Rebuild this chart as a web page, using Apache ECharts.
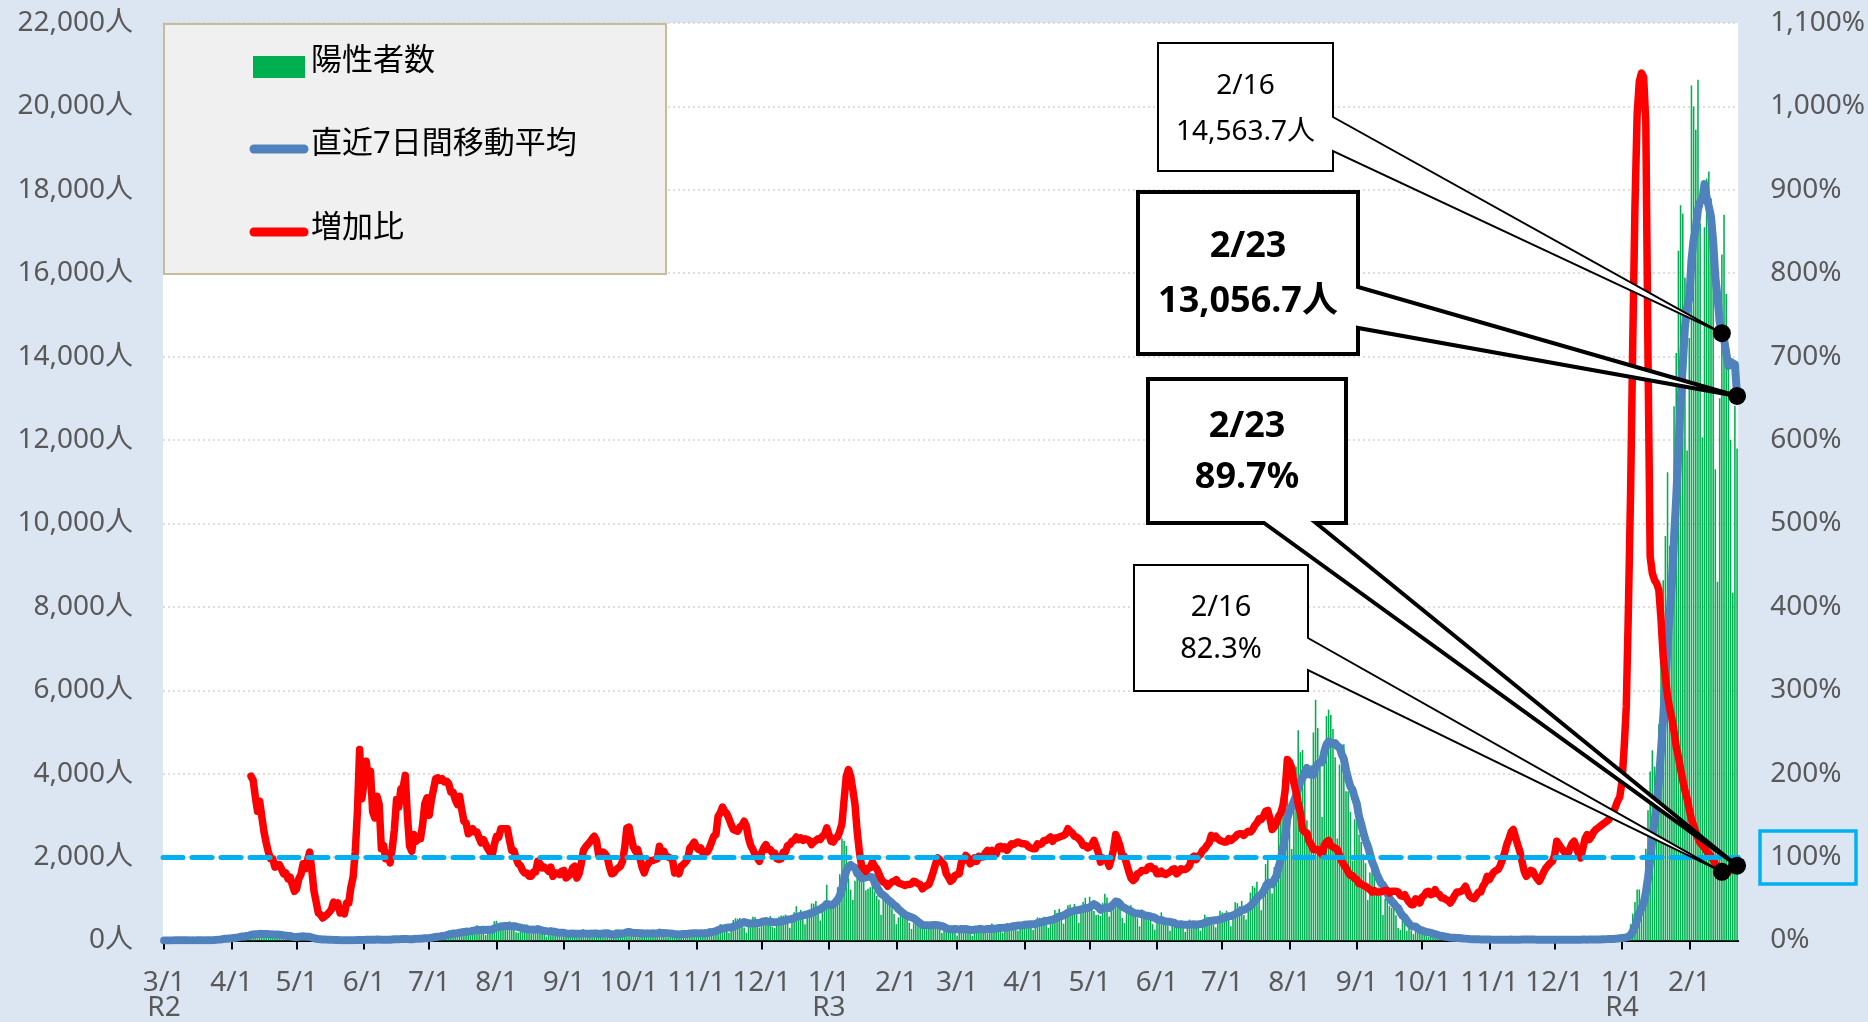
<!DOCTYPE html>
<html><head><meta charset="utf-8">
<script src="https://cdn.jsdelivr.net/npm/echarts@6/dist/echarts.min.js"></script>
<style>html,body{margin:0;padding:0;background:#dce6f2;}#c{width:1868px;height:1022px;}</style>
</head><body><div id="c"></div>
<script>
// ---------- DATA (daily, from 2020-03-01) ----------
const firstDay = [2020, 3, 1];
const cases2020 = [0,1,2,2,8,6,3,4,3,0,7,2,1,8,1,0,1,5,6,11,7,10,16,17,41,47,40,63,68,13,78,
66,97,89,116,143,83,79,144,178,189,197,166,91,161,127,149,201,181,107,102,123,132,134,161,103,72,39,112,47,46,
165,154,91,87,58,38,23,39,36,22,15,28,10,30,9,14,5,10,5,5,11,3,2,14,8,10,11,15,22,14,5,
13,34,12,28,20,26,14,13,12,18,22,25,24,47,48,27,16,41,35,39,35,29,31,55,48,54,57,60,58,54,
67,107,124,131,111,102,106,75,224,243,206,206,119,143,165,286,293,290,188,168,237,238,366,260,295,239,131,266,250,367,463,
472,292,258,309,263,360,462,429,331,197,188,222,206,389,385,260,161,207,186,339,258,256,212,95,182,236,250,226,148,148,100,
170,141,211,229,181,116,77,170,149,276,187,146,146,80,191,163,172,220,218,164,98,88,59,195,270,270,181,78,191,194,
235,196,207,143,78,173,177,172,249,197,146,81,166,176,284,185,234,77,78,139,150,185,186,203,124,102,158,171,221,215,215,
116,87,209,122,269,242,294,189,157,293,317,393,374,352,255,180,298,493,534,522,539,391,314,186,401,481,570,561,418,311,
372,500,533,449,584,327,299,352,572,602,595,621,480,305,460,678,822,664,736,556,392,563,748,888,884,949,708,481,856,944,1337];
const cases2021 = [783,814,816,884,1278,1591,2447,2392,2268,1494,1219,970,1433,1502,2044,1809,1592,1204,1240,1274,1471,1175,1070,986,618,1026,973,1064,868,769,633,
393,556,676,734,577,639,429,276,412,390,434,307,369,371,266,378,445,445,353,327,272,178,275,213,340,270,337,329,
121,232,316,279,301,293,237,116,290,340,335,304,241,239,175,300,409,323,303,342,256,187,337,420,394,376,430,313,234,364,414,
475,440,446,355,249,399,555,545,537,570,421,306,510,591,729,667,759,543,405,711,843,861,759,876,635,425,828,925,1027,698,
1050,879,708,609,621,591,907,1121,1032,573,925,969,1010,854,772,542,419,732,766,843,614,629,535,340,743,597,684,614,539,392,260,
471,487,676,472,436,351,235,369,440,439,435,467,304,209,337,501,452,453,388,376,236,435,619,570,562,534,386,317,476,714,
673,660,716,518,342,593,920,896,822,950,614,502,830,1149,1308,1271,1410,1008,727,1387,1832,1979,1359,1128,1763,1429,2848,3177,3865,3300,4058,
3058,2195,3709,4166,5042,4515,4566,4066,2884,2612,4200,4989,5773,5094,4295,2962,4377,5386,5534,5405,5074,4392,2447,4220,4228,4704,3581,3581,3081,1915,2909,
3168,2539,2362,2070,1853,968,1629,1834,1675,1242,1273,1067,611,1004,1052,831,782,862,606,302,253,537,531,235,382,248,154,248,267,218,
200,198,161,87,149,144,138,82,81,60,49,77,72,62,66,65,40,29,36,41,36,26,32,19,17,29,36,21,23,20,22,
9,18,21,21,24,22,18,10,18,27,25,21,20,20,7,31,21,24,22,20,19,9,6,11,29,24,12,24,25,15,
13,23,19,21,22,16,19,23,21,21,16,22,20,22,22,16,31,23,16,37,26,36,37,39,39,31,46,34,76,64,78];
const cases2022 = [79,84,103,151,390,641,922,1224,1223,871,962,2198,3124,4051,4561,4172,3511,5185,7377,8638,9699,11227,9468,8503,12813,14086,16538,17631,17433,15895,11751,
14445,20500,20000,19440,20640,17200,12070,17100,18270,18440,17800,16400,11300,8600,13000,16450,17400,15500,14200,12000,8340,12820,11800];

const avg2020 = [1,1,2,2,3,3,3,4,4,4,4,4,3,4,3,3,3,3,3,5,4,6,8,10,15,21,25,33,42,41,50,
54,61,68,75,86,96,96,107,119,133,145,148,149,161,158,154,156,154,145,147,141,142,140,134,123,118,109,108,95,83,
83,91,93,100,93,91,88,70,53,43,33,29,25,26,21,18,16,15,12,11,8,8,6,7,7,8,8,9,12,13,12,
13,16,16,18,18,20,21,21,18,19,18,19,18,23,28,30,30,33,34,36,34,32,32,38,39,42,44,48,52,55,
57,65,75,86,93,99,107,108,125,142,152,166,168,174,187,195,203,215,212,219,232,243,254,250,250,258,252,256,258,258,287,
313,320,338,344,346,345,345,339,345,336,319,313,291,280,274,264,259,261,256,275,257,238,231,222,218,225,213,208,193,184,184,
183,169,163,164,169,164,161,161,162,171,165,160,164,165,168,170,155,160,170,173,175,160,146,149,156,163,166,163,178,197,
203,192,183,178,178,175,173,164,171,170,170,171,170,170,186,176,182,172,171,168,164,150,150,145,152,156,158,161,166,171,172,
171,169,176,169,176,180,191,202,212,224,252,269,288,296,306,309,310,335,355,376,403,422,442,426,412,405,412,415,419,418,
445,459,466,449,452,439,438,435,445,455,476,481,503,504,519,534,566,576,592,603,615,630,640,650,681,711,733,746,788,816,880];
const avg2021 = [865,846,862,919,979,1072,1230,1460,1668,1765,1813,1769,1746,1611,1561,1496,1510,1508,1546,1524,1519,1395,1289,1203,1119,1089,1046,987,944,901,850,
818,751,708,661,620,601,572,555,535,494,451,412,374,366,364,359,367,369,375,369,355,343,328,295,280,268,269,277,
269,263,278,269,274,267,254,253,262,265,273,274,266,266,275,276,286,284,284,299,301,303,308,310,320,330,343,351,358,362,361,
372,381,384,390,392,397,417,427,441,459,468,476,492,497,523,542,569,586,601,629,665,684,697,714,727,730,747,758,782,773,
798,833,874,842,799,737,766,777,798,779,824,874,934,926,876,806,784,757,728,704,670,649,648,637,639,614,592,592,579,558,547,
508,492,491,471,456,450,447,432,426,392,386,391,384,380,376,385,386,389,378,388,392,406,423,440,455,476,477,489,495,508,
523,537,563,582,586,602,632,664,687,720,734,757,791,823,882,946,1012,1068,1100,1180,1278,1373,1386,1346,1454,1554,1763,1955,2224,2501,2920,
3105,3214,3337,3479,3647,3820,3893,4037,4135,3979,3984,3976,4156,4231,4264,4275,4527,4697,4774,4722,4719,4733,4659,4637,4471,4353,4092,3879,3692,3616,3428,
3277,2968,2794,2578,2402,2267,2084,1894,1770,1610,1496,1384,1333,1244,1132,1011,946,887,821,777,670,596,553,475,407,355,334,334,295,250,
245,219,207,197,183,165,154,137,120,106,100,90,80,69,67,64,62,59,53,48,45,39,34,31,30,29,28,26,25,24,24,
23,21,19,19,19,20,19,19,19,20,21,20,20,20,20,22,21,21,21,21,21,21,17,16,17,17,16,16,19,20,
20,19,19,20,20,18,19,20,20,20,20,20,20,21,21,20,21,22,21,24,24,26,29,31,33,35,36,37,43,47,53];
const avg2022 = [58,66,74,91,136,218,339,502,665,775,890,1149,1503,1950,2427,2848,3226,3829,4569,5356,6163,7116,7872,8585,9675,10633,11762,12895,13782,14700,15164,
15397,16313,16808,17066,17524,17711,17756,18136,17817,17594,17360,16754,15911,15416,14830,14563.7,14421,14093,13779,13879,13841,13816,13056.7];

// 増加比 starts on 2020-04-10
const ratioFirstDay = [2020, 4, 10];
const ratio2020 = [197,192,172,155,167,148,130,117,106,98,98,88,90,91,86,80,81,74,76,67,59,
62,74,79,92,86,96,106,84,59,46,33,31,27,29,31,34,37,46,41,45,33,35,32,45,45,64,76,107,155,229,170,
188,215,195,203,154,147,173,163,110,114,98,103,93,110,133,169,160,182,183,198,150,113,107,127,119,122,122,139,164,171,
150,168,181,194,195,192,194,190,191,188,178,178,169,163,173,157,143,141,128,130,134,130,130,123,117,121,115,110,106,102,115,
125,124,134,134,134,134,120,108,108,99,92,90,84,81,81,77,77,82,82,95,92,87,88,86,83,88,77,81,81,79,83,
84,75,77,79,87,89,75,80,92,108,112,115,118,122,125,120,103,103,106,104,100,88,80,81,85,87,89,95,111,135,
136,123,112,107,109,99,88,81,89,93,96,96,97,98,113,103,107,101,100,99,97,81,85,80,89,91,94,98,111,114,118,
112,109,111,105,106,106,111,118,125,127,149,153,160,155,152,146,139,133,132,131,136,138,143,137,123,114,109,103,99,95,
105,111,115,109,109,105,105,98,97,98,106,106,114,115,119,120,124,121,123,120,122,121,120,115,118,120,122,121,125,127,135];
const ratio2021 = [127,119,118,123,124,131,140,169,197,205,197,181,163,131,107,90,86,83,87,87,94,89,86,80,74,70,69,65,68,70,71,
73,69,68,67,66,67,67,68,71,70,68,67,62,64,66,67,74,82,91,99,97,94,91,80,76,71,73,78,
79,80,94,96,102,99,92,94,99,95,101,100,100,105,108,106,108,104,104,112,113,110,112,108,112,116,115,117,118,117,116,
116,115,112,111,110,110,116,115,116,120,120,122,124,119,123,123,124,125,126,128,134,131,129,125,124,122,119,114,114,111,
112,115,120,113,105,94,99,97,96,89,98,109,127,121,113,101,101,92,83,75,72,74,80,81,84,84,84,88,89,86,86,
80,80,83,80,79,81,82,85,86,80,82,86,85,85,87,90,99,101,97,101,103,108,110,114,117,126,123,125,122,120,
119,118,118,122,120,122,124,127,128,128,126,129,131,130,133,138,141,146,145,149,155,156,146,133,136,141,149,153,162,180,217,
214,207,189,178,164,153,133,130,129,119,115,109,109,109,106,103,114,118,120,114,112,111,109,102,95,91,87,82,78,78,74,
73,68,68,66,65,63,61,58,60,58,58,58,59,60,60,57,59,59,59,58,54,53,55,50,46,43,43,50,49,45,
52,54,58,59,55,56,61,56,55,51,51,49,48,45,49,54,58,58,59,61,65,58,53,51,50,54,58,58,65,69,77,
73,78,82,84,85,90,97,105,115,122,130,133,124,115,107,95,83,77,80,84,83,78,74,71,76,82,87,90,93,95,
102,119,115,111,108,104,103,110,116,119,112,104,99,110,122,127,121,125,130,133,135,137,139,141,143,145,150,153,160,167,172];
const ratio2022 = [190,230,280,400,540,720,880,990,1030,1040,1035,980,700,460,440,432,428,420,385,340,315,293,278,266,250,232,220,205,192,180,170,
157,145,138,130,123,117,114,111,107,104,101,97,92,88,84,82.3,81,81,82,85,87,89,89.7];

const leftAxis = {min: 0, max: 22000, step: 2000, unit: '人'};
const rightAxis = {min: 0, max: 1100, step: 100, unit: '%'};
const baselineRatio = 100;
const seriesNames = ['陽性者数', '直近7日間移動平均', '増加比'];
const calloutDays = ['2022-2-16', '2022-2-23'];

// ---------- BUILD ----------
const cases = cases2020.concat(cases2021, cases2022);
const avg7 = avg2020.concat(avg2021, avg2022);
const ratioVals = ratio2020.concat(ratio2021, ratio2022);
const dates = [];
for (let i = 0, t = Date.UTC(firstDay[0], firstDay[1]-1, firstDay[2]); i < cases.length; i++, t += 86400000) {
  const d = new Date(t);
  dates.push(d.getUTCFullYear() + '-' + (d.getUTCMonth()+1) + '-' + d.getUTCDate());
}
const ratioStart = dates.indexOf(ratioFirstDay.join('-'));
const ratioData = ratioVals.map((v, i) => [dates[ratioStart + i], v]);
if (avg7.length !== cases.length || ratioStart + ratioVals.length !== cases.length) {
  console.error('length mismatch', cases.length, avg7.length, ratioStart + ratioVals.length);
}

const FONT = '"Noto Sans","Noto Sans CJK JP",sans-serif';
const isMonthStart = (idx, val) => String(val).split('-')[2] === '1';
const fmtDate = (val, idx) => {
  const p = String(val).split('-');
  let s = p[1] + '/' + p[2];
  if (idx === 0 || p[1] === '1') s += '\nR' + (Number(p[0]) - 2018);
  return s;
};
const fmtNum = v => Number(v).toLocaleString('en-US');

const chart = echarts.init(document.getElementById('c'));
const GRID = {left: 163, right: 129, top: 23, bottom: 79};
chart.setOption({
  backgroundColor: '#dce6f2',
  animation: false,
  textStyle: {fontFamily: FONT},
  grid: Object.assign({show: true, backgroundColor: '#ffffff', borderWidth: 0}, GRID),
  xAxis: {
    type: 'category', data: dates, boundaryGap: true,
    axisLine: {lineStyle: {color: '#000', width: 2}},
    axisTick: {show: true, alignWithLabel: true, interval: isMonthStart, length: 9, lineStyle: {color: '#000', width: 2}},
    axisLabel: {interval: isMonthStart, formatter: fmtDate, color: '#595959', fontSize: 28, lineHeight: 25, margin: 30, fontFamily: FONT},
    splitLine: {show: false}
  },
  yAxis: [
    {type: 'value', min: leftAxis.min, max: leftAxis.max, interval: leftAxis.step, position: 'left',
     axisLabel: {formatter: v => fmtNum(v) + leftAxis.unit, color: '#595959', fontSize: 28, margin: 30, fontFamily: FONT},
     axisLine: {show: false}, axisTick: {show: false},
     splitLine: {show: true, lineStyle: {color: '#d4d4d4', type: [2, 3], width: 1.5}}},
    {type: 'value', min: rightAxis.min, max: rightAxis.max, interval: rightAxis.step, position: 'right',
     axisLabel: {formatter: v => fmtNum(v) + rightAxis.unit, color: '#595959', fontSize: 28, margin: 32, fontFamily: FONT},
     axisLine: {show: false}, axisTick: {show: false}, splitLine: {show: false}}
  ],
  series: [
    {name: seriesNames[0], type: 'bar', data: cases, yAxisIndex: 0, barCategoryGap: '28%',
     itemStyle: {color: '#00b050'}, z: 2},
    {name: seriesNames[1], type: 'line', data: avg7, yAxisIndex: 0, symbol: 'none', showSymbol: false,
     lineStyle: {color: '#4f81bd', width: 8, cap: 'round', join: 'round'}, z: 3},
    {name: seriesNames[2], type: 'line', data: ratioData, yAxisIndex: 1, symbol: 'none', showSymbol: false,
     lineStyle: {color: '#ff0000', width: 7.5, cap: 'round', join: 'round'}, z: 4,
     markLine: {silent: true, symbol: 'none', label: {show: false},
       lineStyle: {color: '#00b0f0', type: [20, 9], width: 5, cap: 'round'},
       data: [{yAxis: baselineRatio}]}}
  ]
});

// ---------- ANNOTATIONS (positions from the library's scales) ----------
const iA = dates.indexOf(calloutDays[0]);
const iB = dates.indexOf(calloutDays[1]);
const ratioAt = i => ratioVals[i - ratioStart];
const px = (yAxisIndex, i, v) => chart.convertToPixel({xAxisIndex: 0, yAxisIndex: yAxisIndex}, [i, v]);
const tipMA_A = px(0, iA, avg7[iA]);
const tipMA_B = px(0, iB, avg7[iB]);
const tipR_A = px(1, iA, ratioAt(iA));
const tipR_B = px(1, iB, ratioAt(iB));
const y100 = chart.convertToPixel({yAxisIndex: 1}, baselineRatio);
const plotRight = 1868 - GRID.right;

const md = s => { const p = s.split('-'); return p[1] + '/' + p[2]; };
const fmt1 = v => Number(v).toLocaleString('en-US', {minimumFractionDigits: 1, maximumFractionDigits: 1});

function calloutRight(b, w1, w2, tip) {
  return [[b[0], b[1]], [b[2], b[1]], [b[2], w1], tip, [b[2], w2], [b[2], b[3]], [b[0], b[3]]];
}
function calloutBottom(b, w1, w2, tip) {
  return [[b[0], b[1]], [b[2], b[1]], [b[2], b[3]], [w2, b[3]], tip, [w1, b[3]], [b[0], b[3]]];
}
function poly(points, lw) {
  return {type: 'polygon', z: 50, shape: {points: points},
    style: {fill: '#ffffff', stroke: '#000000', lineWidth: lw, lineJoin: 'miter'}};
}
function txt(x, y, text, size, bold, lh) {
  return {type: 'text', z: 55, x: x, y: y,
    style: {text: text, fill: '#000', fontSize: size, fontWeight: bold ? 'bold' : 'normal',
      fontFamily: FONT, align: 'center', verticalAlign: 'middle', lineHeight: lh}};
}
function dot(p) {
  return {type: 'circle', z: 60, shape: {cx: p[0], cy: p[1], r: 9}, style: {fill: '#000'}};
}

const box1 = [1158, 43, 1333, 171];
const box2 = [1138, 192, 1358, 354];
const box3 = [1148, 379, 1346, 523];
const box4 = [1134, 565, 1308, 691];

const graphics = [
  // legend
  {type: 'rect', z: 40, shape: {x: 164, y: 24, width: 502, height: 250}, style: {fill: '#f0f0f0', stroke: '#c4bd97', lineWidth: 2}},
  {type: 'rect', z: 41, shape: {x: 253, y: 56, width: 52, height: 22}, style: {fill: '#00b050'}},
  {type: 'line', z: 41, shape: {x1: 254, y1: 149, x2: 304, y2: 149}, style: {stroke: '#4f81bd', lineWidth: 9, lineCap: 'round'}},
  {type: 'line', z: 41, shape: {x1: 254, y1: 232, x2: 304, y2: 232}, style: {stroke: '#ff0000', lineWidth: 9, lineCap: 'round'}},
  {type: 'text', z: 41, x: 311, y: 61, style: {text: seriesNames[0], fill: '#000', fontSize: 31, fontFamily: FONT, verticalAlign: 'middle'}},
  {type: 'text', z: 41, x: 311, y: 144, style: {text: seriesNames[1], fill: '#000', fontSize: 31, fontFamily: FONT, verticalAlign: 'middle'}},
  {type: 'text', z: 41, x: 311, y: 228, style: {text: seriesNames[2], fill: '#000', fontSize: 31, fontFamily: FONT, verticalAlign: 'middle'}},
  // 100% label frame
  {type: 'rect', z: 40, shape: {x: plotRight + 21, y: y100 - 26, width: 96, height: 53},
   style: {fill: 'none', stroke: '#00b0f0', lineWidth: 3.5}},
  // callouts
  poly(calloutRight(box1, 117, 151, tipMA_A), 2),
  poly(calloutRight(box2, 287, 328, tipMA_B), 4),
  poly(calloutBottom(box3, 1264, 1316, tipR_B), 4),
  poly(calloutRight(box4, 638, 670, tipR_A), 2),
  txt((box1[0]+box1[2])/2, 109, md(calloutDays[0]) + '\n' + fmt1(avg7[iA]) + '人', 28, false, 46),
  txt((box2[0]+box2[2])/2, 274, md(calloutDays[1]) + '\n' + fmt1(avg7[iB]) + '人', 36, true, 55),
  txt((box3[0]+box3[2])/2, 452, md(calloutDays[1]) + '\n' + fmt1(ratioAt(iB)) + '%', 36, true, 51),
  txt((box4[0]+box4[2])/2, 629, md(calloutDays[0]) + '\n' + fmt1(ratioAt(iA)) + '%', 29, false, 42),
  dot(tipMA_A), dot(tipMA_B), dot(tipR_A), dot(tipR_B)
];
chart.setOption({graphic: graphics});
</script></body></html>
